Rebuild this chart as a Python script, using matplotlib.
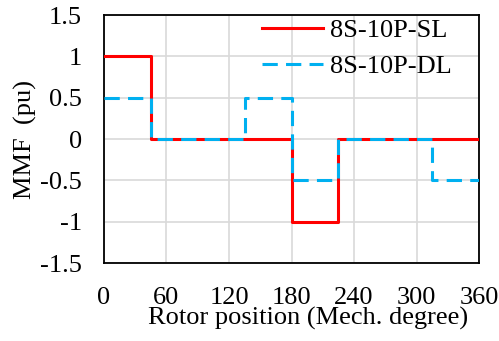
import matplotlib
matplotlib.use("Agg")
import matplotlib.pyplot as plt

# step breakpoints (mechanical degrees) and MMF values
sl_x = [0, 45, 45, 180, 180, 225, 225, 360]
sl_y = [1, 1, 0, 0, -1, -1, 0, 0]
dl_x = [0, 45, 45, 135, 135, 180, 180, 225, 225, 315, 315, 360]
dl_y = [0.5, 0.5, 0, 0, 0.5, 0.5, -0.5, -0.5, 0, 0, -0.5, -0.5]
x_ticks = [0, 60, 120, 180, 240, 300, 360]
y_ticks = [-1.5, -1, -0.5, 0, 0.5, 1, 1.5]

plt.rcParams['font.family'] = ['Liberation Serif', 'DejaVu Serif']
plt.rcParams['font.size'] = 19

fig = plt.figure(figsize=(4.99, 3.41), dpi=100)
ax = fig.add_axes([0.2084, 0.2287, 0.7516, 0.7273])

ax.plot(sl_x, sl_y, color='#FF0000', lw=2.2, label='8S-10P-SL', zorder=3)
ax.plot(dl_x, dl_y, color='#00B0F0', lw=2.2, ls=(0, (5, 2.7)), label='8S-10P-DL', zorder=4)

ax.set_xlim(0, 360)
ax.set_ylim(-1.5, 1.5)
ax.set_xticks(x_ticks)
ax.set_yticks(y_ticks)
ax.set_yticklabels(['-1.5', '-1', '-0.5', '0', '0.5', '1', '1.5'])
ax.tick_params(length=0)
ax.tick_params(axis='x', pad=17)
ax.tick_params(axis='y', pad=16)
ax.grid(color='#D9D9D9', lw=1.2)
ax.set_axisbelow(True)
for s in ax.spines.values():
    s.set_linewidth(1.3)
    s.set_color('black')

ax.set_xlabel('Rotor position (Mech. degree)')
ax.xaxis.set_label_coords(0.545, -0.178)
ax.xaxis.label.set_va('top')
ax.set_ylabel('MMF  (pu)', labelpad=2)

leg = fig.legend(loc='upper left', bbox_to_anchor=(262 / 499, 1 - 19 / 341),
                 frameon=False, handlelength=2.3, borderpad=0, borderaxespad=0,
                 handletextpad=0.27, labelspacing=0.45)

fig.savefig('out.png', dpi=100)
